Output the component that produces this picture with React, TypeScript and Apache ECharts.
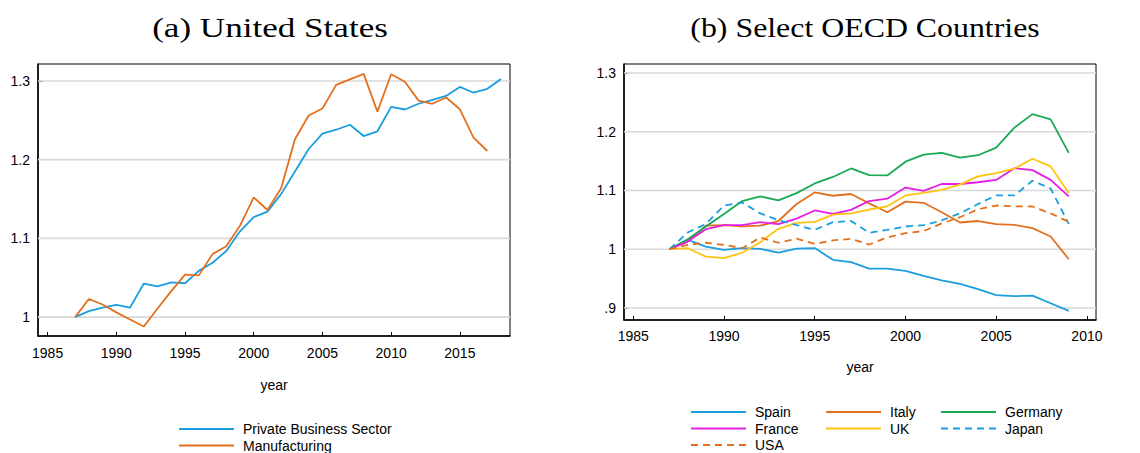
import React, { useEffect, useRef } from "react";
import * as echarts from "echarts";

const usYears = [1987, 1988, 1989, 1990, 1991, 1992, 1993, 1994, 1995, 1996, 1997, 1998, 1999, 2000, 2001, 2002, 2003, 2004, 2005, 2006, 2007, 2008, 2009, 2010, 2011, 2012, 2013, 2014, 2015, 2016, 2017, 2018];
const privateBusiness = [1.0, 1.0076, 1.012, 1.0156, 1.012, 1.0426, 1.039, 1.044, 1.043, 1.0587, 1.069, 1.084, 1.109, 1.127, 1.134, 1.1565, 1.185, 1.2135, 1.233, 1.238, 1.2443, 1.23, 1.236, 1.267, 1.2637, 1.271, 1.276, 1.281, 1.2924, 1.285, 1.29, 1.3025];
const manufacturing = [1.0, 1.023, 1.016, 1.006, 0.997, 0.988, 1.011, 1.033, 1.054, 1.053, 1.08, 1.09, 1.116, 1.152, 1.136, 1.164, 1.226, 1.256, 1.265, 1.295, 1.302, 1.309, 1.261, 1.3085, 1.299, 1.275, 1.271, 1.279, 1.264, 1.228, 1.211, null];

const oecdYears = [1987, 1988, 1989, 1990, 1991, 1992, 1993, 1994, 1995, 1996, 1997, 1998, 1999, 2000, 2001, 2002, 2003, 2004, 2005, 2006, 2007, 2008, 2009];
const spain = [1.0, 1.016, 1.0045, 0.999, 1.002, 1.0006, 0.994, 1.001, 1.002, 0.982, 0.978, 0.967, 0.967, 0.963, 0.9545, 0.947, 0.941, 0.932, 0.922, 0.92, 0.921, 0.908, 0.895];
const italy = [1.0, 1.013, 1.04, 1.041, 1.039, 1.04, 1.048, 1.077, 1.0966, 1.091, 1.094, 1.078, 1.063, 1.081, 1.079, 1.063, 1.0455, 1.048, 1.0426, 1.0415, 1.036, 1.0216, 0.983];
const germany = [1.0, 1.017, 1.0386, 1.06, 1.082, 1.09, 1.083, 1.0955, 1.112, 1.123, 1.1375, 1.126, 1.1256, 1.149, 1.161, 1.164, 1.156, 1.16, 1.173, 1.207, 1.23, 1.221, 1.164];
const france = [1.0, 1.013, 1.034, 1.041, 1.041, 1.046, 1.0426, 1.052, 1.066, 1.06, 1.067, 1.082, 1.086, 1.105, 1.0994, 1.111, 1.111, 1.114, 1.118, 1.138, 1.1347, 1.118, 1.09];
const uk = [1.0, 1.0017, 0.9875, 0.985, 0.994, 1.012, 1.0347, 1.045, 1.0466, 1.059, 1.061, 1.0676, 1.073, 1.0915, 1.096, 1.101, 1.11, 1.124, 1.1295, 1.137, 1.154, 1.141, 1.0955];
const japan = [1.0, 1.0284, 1.043, 1.0744, 1.0795, 1.061, 1.0494, 1.041, 1.033, 1.046, 1.048, 1.028, 1.033, 1.0386, 1.041, 1.049, 1.061, 1.077, 1.0915, 1.0915, 1.1165, 1.1034, 1.043];
const usa = [1.0, 1.0074, 1.011, 1.0074, 1.0017, 1.02, 1.011, 1.018, 1.009, 1.015, 1.0176, 1.008, 1.02, 1.0273, 1.031, 1.044, 1.0545, 1.068, 1.0744, 1.073, 1.0727, 1.061, 1.0466];

const xTicksLeft = [1985, 1990, 1995, 2000, 2005, 2010, 2015];
const xTicksRight = [1985, 1990, 1995, 2000, 2005, 2010];
const yTicksLeft = [1, 1.1, 1.2, 1.3];
const yTicksRight = [0.9, 1, 1.1, 1.2, 1.3];

const BLUE = "#1a9ede";
const ORANGE = "#e3701e";
const GREEN = "#1aaa55";
const MAGENTA = "#e41ee4";
const YELLOW = "#ffc30f";
const GRIDGRAY = "#d9d9d9";
const FONT = "Liberation Sans";

const X_RANGE_LEFT = [1984.3, 2018.65];
const X_RANGE_RIGHT = [1984.49, 2010.5];

const zip = (xs: number[], ys: (number | null)[]) => xs.map((x, i) => [x, ys[i]]);
const fmtY = (v: number) => {
  let s = (Math.round(v * 10) / 10).toFixed(1);
  if (s.endsWith(".0")) s = s.slice(0, -2);
  if (s.startsWith("0.")) s = s.slice(1);
  return s;
};

export default function App() {
  const ref = useRef<HTMLDivElement>(null);
  useEffect(() => {
    if (!ref.current) return;
    const chart = echarts.init(ref.current, null, { renderer: "svg" });
    const xAxisBase = (gridIndex: number, range: number[], ticks: number[], labelMargin: number, nameGap: number) => ({
      type: "value",
      gridIndex,
      min: range[0],
      max: range[1],
      name: "year",
      nameLocation: "middle",
      nameGap,
      nameTextStyle: { fontFamily: FONT, fontSize: 14, color: "#000" },
      axisLine: { show: true, lineStyle: { color: "#000", width: 1.5 } },
      axisTick: { show: true, inside: true, length: 4, customValues: ticks, lineStyle: { color: "#000", width: 1 } },
      axisLabel: { customValues: ticks, margin: labelMargin, fontFamily: FONT, fontSize: 14, color: "#000", formatter: (v: number) => String(v) },
      splitLine: { show: false },
    });
    const yAxisBase = (gridIndex: number, min: number, max: number, ticks: number[]) => ({
      type: "value",
      gridIndex,
      min,
      max,
      axisLine: { show: true, lineStyle: { color: "#000", width: 1.5 } },
      axisTick: { show: true, inside: true, length: 4, customValues: ticks, lineStyle: { color: "#000", width: 1 } },
      axisLabel: { customValues: ticks, margin: 8, fontFamily: FONT, fontSize: 14, color: "#000", formatter: fmtY },
      splitLine: { show: false },
    });
    const gridLines = (idx: number, ticks: number[], range: number[]) =>
      ticks.map((t, k) => ({
        name: "grid" + idx + "_" + k,
        type: "line",
        xAxisIndex: idx,
        yAxisIndex: idx,
        data: [[range[0], t], [range[1], t]],
        symbol: "none",
        showSymbol: false,
        clip: false,
        z: 2,
        silent: true,
        lineStyle: { color: GRIDGRAY, width: 1.6, opacity: 1 },
        itemStyle: { color: GRIDGRAY },
      }));
    const line = (name: string, idx: number, xs: number[], ys: (number | null)[], color: string, dashed = false) => ({
      name,
      type: "line",
      xAxisIndex: idx,
      yAxisIndex: idx,
      data: zip(xs, ys),
      symbol: "none",
      z: 3,
      lineStyle: { color, width: 1.8, type: dashed ? [7, 5] : "solid" },
      itemStyle: { color },
    });
    const legendBase = {
      orient: "vertical",
      itemWidth: 55,
      itemHeight: 12,
      itemGap: 2.5,
      padding: 0,
      height: 80,
      itemStyle: { opacity: 0 },
      textStyle: { fontFamily: FONT, fontSize: 14, color: "#000", padding: [0, 0, 0, 4] },
      selectedMode: false,
    };
    chart.setOption({
      animation: false,
      backgroundColor: "#fff",
      graphic: [
        { type: "text", x: 270, y: 28, scaleX: 1.3, style: { text: "(a) United States", font: '27px "Liberation Serif"', fill: "#000", align: "center", verticalAlign: "middle" } },
        { type: "text", x: 865, y: 28, scaleX: 1.18, style: { text: "(b) Select OECD Countries", font: '27px "Liberation Serif"', fill: "#000", align: "center", verticalAlign: "middle" } },
      ],
      grid: [
        { left: 38, top: 64, width: 472, height: 272, show: true, borderColor: "#000", borderWidth: 1 },
        { left: 624, top: 64, width: 472, height: 256, show: true, borderColor: "#000", borderWidth: 1 },
      ],
      xAxis: [
        xAxisBase(0, X_RANGE_LEFT, xTicksLeft, 10, 42),
        xAxisBase(1, X_RANGE_RIGHT, xTicksRight, 9, 40),
      ],
      yAxis: [
        yAxisBase(0, 0.976, 1.3215, yTicksLeft),
        yAxisBase(1, 0.8795, 1.3153, yTicksRight),
      ],
      legend: [
        { ...legendBase, left: 178, top: 422, data: ["Private Business Sector", "Manufacturing"] },
        { ...legendBase, left: 690, top: 405, data: ["Spain", "France", "USA"] },
        { ...legendBase, left: 825, top: 405, data: ["Italy", "UK"] },
        { ...legendBase, left: 940, top: 405, data: ["Germany", "Japan"] },
      ],
      series: [
        ...gridLines(0, yTicksLeft, X_RANGE_LEFT),
        ...gridLines(1, yTicksRight, X_RANGE_RIGHT),
        line("Private Business Sector", 0, usYears, privateBusiness, BLUE),
        line("Manufacturing", 0, usYears, manufacturing, ORANGE),
        line("Spain", 1, oecdYears, spain, BLUE),
        line("Italy", 1, oecdYears, italy, ORANGE),
        line("Germany", 1, oecdYears, germany, GREEN),
        line("France", 1, oecdYears, france, MAGENTA),
        line("UK", 1, oecdYears, uk, YELLOW),
        line("Japan", 1, oecdYears, japan, BLUE, true),
        line("USA", 1, oecdYears, usa, ORANGE, true),
      ],
    });
    return () => chart.dispose();
  }, []);
  return <div ref={ref} style={{ position: "fixed", left: 0, top: 0, width: 1140, height: 453, background: "#fff" }} />;
}
